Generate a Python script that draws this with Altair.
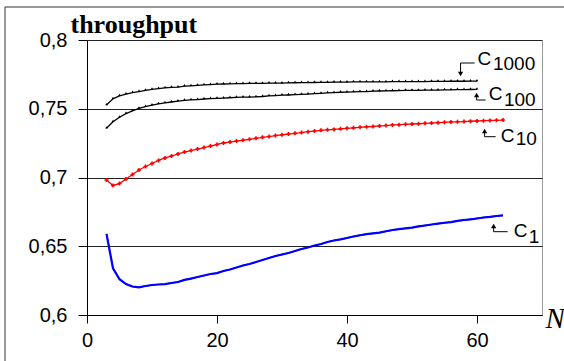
import altair as alt
import pandas as pd

# ---- data ----
N_c1 = list(range(3, 65))
c1 = [0.659, 0.634, 0.626, 0.6225, 0.6207, 0.6201, 0.6211, 0.6218, 0.6222, 0.6225,
      0.6233, 0.624, 0.6255, 0.6265, 0.6276, 0.6287, 0.6298, 0.6305, 0.632, 0.6331,
      0.6345, 0.636, 0.6371, 0.6385, 0.64, 0.6415, 0.6429, 0.644, 0.6451, 0.6465,
      0.648, 0.6491, 0.6505, 0.6516, 0.6531, 0.6542, 0.655, 0.656, 0.6571, 0.658,
      0.6588, 0.6593, 0.6599, 0.6609, 0.6618, 0.6625, 0.663, 0.6635, 0.6644, 0.6651,
      0.6658, 0.6665, 0.6671, 0.6676, 0.6684, 0.6691, 0.6696, 0.6702, 0.6709, 0.6713,
      0.672, 0.6724]

N_c10 = list(range(3, 65))
c10 = [0.6982, 0.6942, 0.6956, 0.6989, 0.7022, 0.7055, 0.708, 0.7102, 0.7124, 0.7142,
       0.7156, 0.7171, 0.7185, 0.7196, 0.7207, 0.7218, 0.7229, 0.724, 0.7251, 0.7258,
       0.7265, 0.7271, 0.7278, 0.7285, 0.7292, 0.7298, 0.7305, 0.7311, 0.7316, 0.7321,
       0.7327, 0.7333, 0.7338, 0.7343, 0.7347, 0.735, 0.7354, 0.7358, 0.7361, 0.7365,
       0.7369, 0.7371, 0.7375, 0.7378, 0.7382, 0.7384, 0.7387, 0.7389, 0.7391, 0.7394,
       0.7396, 0.7399, 0.7401, 0.7404, 0.7405, 0.7407, 0.7409, 0.7411, 0.7413, 0.7415,
       0.7416, 0.7418]

N_c100 = list(range(3, 61))
c100 = [0.7358, 0.7405, 0.7438, 0.7464, 0.7485, 0.7503, 0.7516, 0.7527, 0.7536, 0.7543,
        0.7549, 0.7555, 0.7561, 0.7564, 0.7567, 0.7571, 0.7574, 0.7576, 0.7578, 0.758,
        0.7583, 0.7584, 0.7585, 0.7587, 0.7589, 0.7593, 0.7596, 0.7599, 0.76, 0.7602,
        0.7604, 0.7607, 0.761, 0.7612, 0.7615, 0.7617, 0.762, 0.7621, 0.7623, 0.7624,
        0.7625, 0.7628, 0.7629, 0.763, 0.7631, 0.7632, 0.7633, 0.7633, 0.7634, 0.7635,
        0.7636, 0.7636, 0.7637, 0.7638, 0.7639, 0.7639, 0.764, 0.7641]

N_c1000 = list(range(3, 61))
c1000 = [0.7527, 0.7572, 0.7593, 0.7606, 0.7617, 0.7625, 0.7634, 0.7641, 0.7647, 0.7652,
         0.7655, 0.7658, 0.7664, 0.7667, 0.767, 0.7674, 0.7676, 0.7679, 0.768, 0.7681,
         0.7682, 0.7683, 0.7684, 0.7684, 0.7685, 0.7686, 0.7686, 0.7687, 0.7688, 0.7689,
         0.769, 0.769, 0.7691, 0.7692, 0.7692, 0.7693, 0.7694, 0.7694, 0.7695, 0.7695,
         0.7695, 0.7696, 0.7696, 0.7696, 0.7697, 0.7697, 0.7697, 0.7698, 0.7698, 0.7698,
         0.7699, 0.7699, 0.7699, 0.77, 0.77, 0.77, 0.7701, 0.7701]

x_ticks = [0, 20, 40, 60]
y_ticks = [0.6, 0.65, 0.7, 0.75, 0.8]

# series labels (C + subscript) and leader arrows, in data units
lab_series = ["c1000", "c100", "c10", "c1"]
lab_sub = ["1000", "100", "10", "1"]
lab_c_x = [60.09, 61.79, 63.64, 65.64]
lab_c_y = [0.78182, 0.75636, 0.72582, 0.65673]
lab_s_x = [62.45, 64.15, 65.95, 67.95]
lab_s_y = [0.77818, 0.75200, 0.72364, 0.65236]
# arrows: head position, bend point, tail end
arr_head_x = [57.47, 59.94, 61.17, 62.56]
arr_head_y = [0.77527, 0.76000, 0.73382, 0.66473]
arr_bend_y = [0.78327, 0.75636, 0.72967, 0.66058]
arr_tail_x = [59.63, 61.33, 62.87, 64.71]
arr_dir = ["triangle-down", "triangle-up", "triangle-up", "triangle-up"]

# ---- tables ----
rows = []
for name, ns, vs in [("c1", N_c1, c1), ("c10", N_c10, c10),
                     ("c100", N_c100, c100), ("c1000", N_c1000, c1000)]:
    for n, v in zip(ns, vs):
        rows.append({"series": name, "N": n, "v": v})
df = pd.DataFrame(rows)

lab = pd.DataFrame({"series": lab_series, "sub": lab_sub,
                    "cx": lab_c_x, "cy": lab_c_y, "sx": lab_s_x, "sy": lab_s_y,
                    "hx": arr_head_x, "hy": arr_head_y, "by": arr_bend_y,
                    "tx": arr_tail_x, "dir": arr_dir})

W, H = 455, 275
xs = alt.Scale(domain=[0, 70], nice=False)
ys = alt.Scale(domain=[0.6, 0.8], nice=False, zero=False)
col = alt.Scale(domain=["c1", "c10", "c100", "c1000"],
                range=["#0000ff", "#ff0000", "#000000", "#000000"])

x_enc = alt.X("N:Q", scale=xs, axis=alt.Axis(
    values=x_ticks, grid=False, tickSize=8, labelPadding=7, labelFontSize=20,
    labelFont="Liberation Sans", labelColor="black", tickColor="black",
    domainColor="black", labelFlush=False,
    title="N", titleFont="Liberation Serif", titleFontStyle="italic",
    titleFontWeight="normal", titleFontSize=29, titleColor="black",
    titleAlign="left", titleBaseline="alphabetic", titleX=458, titleY=12,
    titleAnchor="start"))
y_enc = alt.Y("v:Q", scale=ys, axis=alt.Axis(
    values=y_ticks, grid=True, gridColor="#222222", gridWidth=1, tickSize=9,
    labelPadding=11, labelFontSize=20, labelFont="Liberation Sans",
    labelColor="black", tickColor="black", domainColor="black",
    labelExpr="replace(format(datum.value, '.2~f'), '.', ',')",
    title="throughput", titleFont="Liberation Serif", titleFontWeight="bold",
    titleFontSize=26, titleColor="black", titleAngle=0, titleAlign="left",
    titleBaseline="alphabetic", titleX=-17, titleY=-8))

base = alt.Chart(df)
lines = base.mark_line(strokeWidth=1.3, interpolate="linear").encode(
    x=x_enc, y=y_enc,
    color=alt.Color("series:N", scale=col, legend=None),
    detail="series:N")
blue_thick = alt.Chart(df[df.series == "c1"]).mark_line(
    strokeWidth=2.2, color="#0000ff").encode(x="N:Q", y="v:Q")
pts_red = alt.Chart(df[df.series == "c10"]).mark_point(
    shape="cross", size=16, filled=True, color="#ff0000", opacity=1).encode(
    x="N:Q", y="v:Q")
pts_black = alt.Chart(df[df.series.isin(["c100", "c1000"])]).mark_point(
    shape="triangle-up", size=7, filled=True, color="black", opacity=1).encode(
    x="N:Q", y="v:Q", yOffset=alt.value(-1))

lb = alt.Chart(lab)
c_txt = lb.mark_text(text="C", font="Liberation Sans", fontSize=19,
                     align="left", baseline="alphabetic", color="black").encode(
    x="cx:Q", y="cy:Q")
s_txt = lb.mark_text(font="Liberation Sans", fontSize=19, align="left",
                     baseline="alphabetic", color="black").encode(
    x="sx:Q", y="sy:Q", text="sub:N")
vert = lb.mark_rule(color="black", strokeWidth=1).encode(
    x="hx:Q", y="hy:Q", y2="by:Q")
horiz = lb.mark_rule(color="black", strokeWidth=1).encode(
    x="hx:Q", x2="tx:Q", y="by:Q")
heads = lb.mark_point(filled=True, size=28, color="black", opacity=1).encode(
    x="hx:Q", y="hy:Q",
    shape=alt.Shape("dir:N", scale=alt.Scale(
        domain=["triangle-up", "triangle-down"],
        range=["triangle-up", "triangle-down"]), legend=None))

frame_df = pd.DataFrame({"k": [0]})
frame_v = alt.Chart(frame_df).mark_rule(color="#333333", strokeWidth=1).encode(
    x=alt.value(-82), y=alt.value(-33), y2=alt.value(400))
frame_h = alt.Chart(frame_df).mark_rule(color="#333333", strokeWidth=1).encode(
    x=alt.value(-82), x2=alt.value(600), y=alt.value(-33))

chart = alt.layer(lines, blue_thick, pts_red, pts_black, vert, horiz, heads,
                  c_txt, s_txt, frame_v, frame_h).properties(
    width=W, height=H,
    autosize=alt.AutoSizeParams(type="none"),
    padding={"left": 87, "top": 40, "right": 22, "bottom": 46},
    background="white",
).configure_view(stroke="#999999", strokeWidth=1)

chart.save("out.html", embed_options={"renderer": "svg", "actions": False})
